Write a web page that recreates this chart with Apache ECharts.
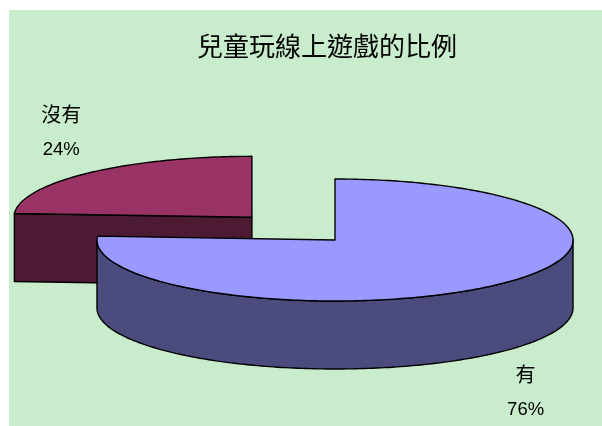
<!DOCTYPE html>
<html>
<head>
<meta charset="utf-8">
<script src="https://cdn.jsdelivr.net/npm/echarts@6/dist/echarts.min.js"></script>
<style>
  html, body { margin: 0; padding: 0; background: #ffffff; }
  #chart { position: absolute; left: 9px; top: 10px; width: 593px; height: 416px; }
</style>
</head>
<body>
<div id="chart"></div>
<script>
// Survey answers: does the child play online games?
const categories = ['有', '沒有'];
const values = [76, 24];

// Appearance of each slice
const topColors = ['#9999FF', '#993366'];
const sideColors = ['#4B4B7E', '#4C1A33'];
const explodeRatio = [0, 0.51];

// 3D pie layout (pixels inside the chart box)
const PIE = { cx: 326, cy: 230, rx: 238, ry: 61, depth: 68 };
const LABEL_KX = 1.17, LABEL_KY = 1.9;
const FONT = '"Liberation Sans", "Noto Sans CJK TC", sans-serif';

const total = values.reduce((a, b) => a + b, 0);
const starts = [];
let acc = 0;
values.forEach(v => { starts.push(acc); acc += v; });

function pt(cx, cy, th, dz) {
  return [cx + PIE.rx * Math.sin(th), cy - PIE.ry * Math.cos(th) + dz];
}
function arc(cx, cy, a0, a1, dz) {
  const pts = [];
  const n = Math.max(2, Math.ceil(Math.abs(a1 - a0) / (Math.PI / 180)));
  for (let k = 0; k <= n; k++) pts.push(pt(cx, cy, a0 + (a1 - a0) * k / n, dz));
  return pts;
}

function renderSlice(params, api) {
  const i = params.dataIndex;
  const a0 = starts[i] / total * Math.PI * 2;
  const a1 = (starts[i] + values[i]) / total * Math.PI * 2;
  const mid = (a0 + a1) / 2;
  const e = explodeRatio[i];
  const cx = PIE.cx + e * PIE.rx * Math.sin(mid);
  const cy = PIE.cy - e * PIE.ry * Math.cos(mid);
  const D = PIE.depth;
  // slices nearer the viewer are painted later
  const zBase = Math.round(100 - 50 * Math.cos(mid));
  const stroke = { stroke: '#000', lineWidth: 1.4, lineJoin: 'round' };
  const children = [];

  // radial cut faces
  const cuts = [[a0, Math.sin(a0) < -1e-6], [a1, Math.sin(a1) > 1e-6]];
  cuts.forEach(([a, visible]) => {
    if (!visible) return;
    const p = pt(cx, cy, a, 0), q = pt(cx, cy, a, D);
    children.push({
      type: 'polygon', z2: zBase,
      shape: { points: [[cx, cy], p, q, [cx, cy + D]] },
      style: Object.assign({ fill: sideColors[i] }, stroke)
    });
  });

  // outer wall, front half only
  for (let off = -2 * Math.PI; off <= 2 * Math.PI; off += 2 * Math.PI) {
    const s = Math.max(a0, Math.PI / 2 + off), t = Math.min(a1, 3 * Math.PI / 2 + off);
    if (t > s) {
      const pts = arc(cx, cy, s, t, 0).concat(arc(cx, cy, t, s, D));
      children.push({
        type: 'polygon', z2: zBase + 1,
        shape: { points: pts },
        style: Object.assign({ fill: sideColors[i] }, stroke)
      });
    }
  }

  // top face
  children.push({
    type: 'polygon', z2: zBase + 2,
    shape: { points: [[cx, cy]].concat(arc(cx, cy, a0, a1, 0)) },
    style: Object.assign({ fill: topColors[i] }, stroke)
  });

  // category name and share
  const lx = cx + PIE.rx * LABEL_KX * Math.sin(mid);
  const ly = cy - PIE.ry * LABEL_KY * Math.cos(mid) + (Math.cos(mid) < 0 ? D : 0);
  const pct = Math.round(values[i] / total * 100) + '%';
  children.push({
    type: 'text', z2: 300,
    style: { text: categories[i], x: lx, y: ly - 16, align: 'center', verticalAlign: 'middle',
             fontSize: 20, fontFamily: FONT, fill: '#000' }
  });
  children.push({
    type: 'text', z2: 300,
    style: { text: pct, x: lx, y: ly + 17.5, align: 'center', verticalAlign: 'middle',
             fontSize: 18.5, fontFamily: FONT, fill: '#000' }
  });

  return { type: 'group', children };
}

const chart = echarts.init(document.getElementById('chart'), null, { renderer: 'canvas' });
chart.setOption({
  backgroundColor: '#C8ECCC',
  animation: false,
  title: {
    text: '兒童玩線上遊戲的比例',
    left: 183, top: 21,
    textStyle: { fontSize: 26, fontWeight: 'normal', color: '#000', fontFamily: FONT }
  },
  series: [{
    type: 'custom',
    coordinateSystem: 'none',
    renderItem: renderSlice,
    data: categories.map((c, i) => ({ name: c, value: values[i] }))
  }]
});
</script>
</body>
</html>
